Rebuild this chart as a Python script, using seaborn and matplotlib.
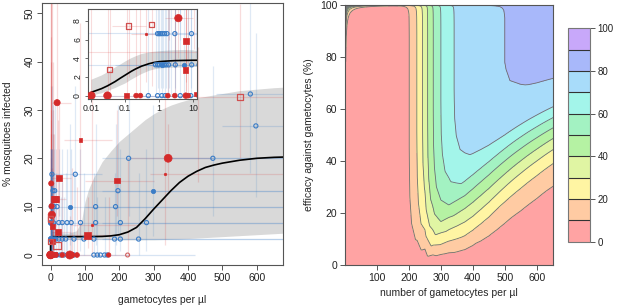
import numpy as np
import matplotlib
matplotlib.use("Agg")
import matplotlib.pyplot as plt
import seaborn as sns

sns.set_style("white")
plt.rcParams["font.family"] = ["Liberation Sans", "DejaVu Sans"]

red = "#d42a2a"
blue = "#3a7cc6"

# fitted infection curve and its confidence band (gametocytes per ul -> % infected)
curve_gam = [0.01, 0.02, 0.03, 0.05, 0.07, 0.1, 0.15, 0.2, 0.3, 0.5, 0.7, 1, 1.5, 2, 3, 5,
             10, 25, 50, 75, 90, 100, 110, 125, 150, 175, 200, 225, 250, 275, 300, 325,
             350, 375, 400, 425, 450, 475, 500, 550, 600, 650, 700]
curve_pct = [0.36, 0.75, 1.05, 1.5, 1.85, 2.2, 2.6, 2.85, 3.15, 3.42, 3.55, 3.64, 3.69,
             3.72, 3.75, 3.77, 3.79, 3.8, 3.8, 3.8, 3.8, 3.8, 3.8, 3.81, 3.84, 3.95, 4.2,
             4.75, 5.7, 7.5, 9.5, 11.4, 13.3, 15.0, 16.3, 17.3, 18.1, 18.6, 19.0, 19.6,
             20.0, 20.2, 20.3]
band_lo = [0.0, 0.25, 0.5, 0.8, 1.05, 1.3, 1.7, 1.95, 2.3, 2.65, 2.8, 2.9, 2.95, 2.98,
           3.0, 3.02, 3.05, 3.15, 3.2, 3.2, 3.2, 3.2, 3.2, 3.2, 3.2, 3.2, 3.15, 3.15,
           3.15, 3.15, 3.15, 3.2, 3.25, 3.3, 3.4, 3.5, 3.6, 3.7, 3.8, 4.0, 4.2, 4.4, 4.6]
band_hi = [1.7, 2.15, 2.5, 3.0, 3.3, 3.65, 4.0, 4.2, 4.45, 4.62, 4.7, 4.75, 4.8, 4.83,
           4.86, 4.88, 4.85, 4.6, 4.5, 5.0, 7.0, 11.0, 13.5, 16.0, 19.3, 21.5, 23.5,
           25.0, 26.5, 28.0, 29.2, 30.2, 31.0, 31.6, 32.1, 32.5, 32.8, 33.1, 33.4, 34.0,
           34.3, 34.6, 34.8]

# observed feeds: red = one study, blue = the other
rfc_x = [0.01, 0.03, 0.21, 0.28, 1.8, 2.9, 6.1, 7.2, 3.7, 2.0, 3.0, 15, 34, 56, 63, 77, 169, 19, 342]
rfc_y = [0, 0, 0, 0, 0, 0, 0, 0, 8.3, 14.8, 10.1, 0, 0, 0, 0, 0, 0, 31.5, 20]
rfc_s = [30, 30, 12, 12, 12, 12, 16, 12, 28, 14, 14, 14, 12, 34, 14, 12, 10, 20, 32]
rdot_x = [0.41, 334, 121]
rdot_y = [6.64, 16.8, 6.2]
rfs_x = [0.11, 6.2, 6.0, 12.5, 87, 194, 24, 10.5, 15, 21, 108]
rfs_y = [0, 5.86, 2.75, 0.15, 23.8, 15.4, 16, 11.6, 11.6, 4.7, 4.1]
rfs_s = [12, 14, 14, 10, 8, 16, 18, 24, 24, 18, 26]
ros_x = [0.125, 0.035, 552, 0.6, 19]
ros_y = [7.46, 2.82, 32.6, 7.6, 2.0]
ros_s = [16, 14, 18, 14, 30]
roc_x = [224]
roc_y = [0]

boc_x = [0.9, 1.0, 1.1, 1.25, 1.45, 1.7, 2.9, 9.0,
         0.78, 0.9, 1.0, 1.2, 1.4, 1.6, 1.9, 3.0, 9.1,
         0.48, 0.9, 1.2, 1.5, 4.2, 8.6,
         4, 7, 12, 2, 10, 19, 72, 227, 472, 581, 597, 196, 131, 189,
         24, 34, 48, 60, 87, 131, 203, 279,
         15, 24, 34, 44, 68, 97, 126, 186, 203, 256,
         19, 29, 39, 68, 126, 136, 145, 157, 165]
boc_y = [6.64] * 8 + [3.3] * 9 + [0] * 6 + \
        [16.7, 13.3, 13.3, 10, 10, 10, 16.7, 20, 20, 33.3, 26.7, 13.3, 10, 10] + \
        [6.7] * 8 + [3.3] * 10 + [0] * 9
bfc_x = [297, 56, 5.6, 1.2]
bfc_y = [13.3, 10, 3.3, 3.3]

# error bars (vertical: binomial CI of % infected, horizontal: CI of gametocyte density)
red_v_x = [0.01, 0.03, 0.035, 0.11, 0.125, 0.21, 0.28, 0.41, 1.8, 2.9, 3.7, 6.0, 6.2, 6.1,
           7.2, 2.0, 3.0, 10.5, 15, 19, 21, 24, 34, 56, 63, 77, 87, 108, 121, 169, 194,
           224, 334, 342, 552, 0.6, 430]
red_v_lo = [0, 0, 0.5, 0, 2, 0, 0, 1.5, 0, 0, 4, 0.5, 1.5, 0, 0, 6, 3, 5, 6, 15, 1, 8, 0,
            0, 0, 0, 4, 1.5, 0.5, 0, 8, 0, 2, 13, 20, 1, 15]
red_v_hi = [35, 25, 40, 30, 45, 20, 28, 55, 18, 22, 18, 30, 40, 12, 25, 55, 55, 25, 22, 55,
            28, 32, 15, 8, 18, 14, 48, 12, 42, 12, 30, 20, 46, 27, 52, 55, 43]
red_h_y = [31.5, 23.8, 20, 16.8, 15.4, 16, 11.6, 4.1, 4.7, 6.2, 32.6, 7.46, 6.64, 0, 0, 8.3]
red_h_lo = [5, 40, 230, 290, 100, 0, 0, 50, 0, 60, 420, 0.04, 0.15, 0.006, 20, 1.5]
red_h_hi = [60, 180, 470, 680, 300, 60, 45, 200, 60, 250, 680, 0.4, 1.0, 15, 230, 10]

blue_v_x = [0.8, 0.9, 1.0, 1.1, 1.2, 1.3, 1.45, 1.6, 1.8, 2.0, 2.3, 2.9, 3.0, 9.0, 0.48, 4.2,
            8.6, 4, 7, 12, 72, 227, 472, 581, 597, 196, 131, 189, 24, 34, 48, 60, 87, 203,
            279, 15, 44, 68, 97, 126, 186, 256, 29, 39, 136, 157, 297, 56, 5.6]
blue_v_lo = [0.1, 0.8, 0.1, 0.8, 0.1, 0.8, 0.1, 0.8, 0.1, 0.8, 0.1, 0.8, 0.1, 0.8, 0, 0,
             0, 6, 4, 4, 6, 8, 8, 17, 12, 4, 2, 2, 0.8, 0.8, 0.8, 0.8, 0.8, 0.8, 0.8, 0.1,
             0.1, 0.1, 0.1, 0.1, 0.1, 0.1, 0, 0, 0, 0, 4, 2, 0.1]
blue_v_hi = [17, 22, 17, 22, 17, 22, 17, 22, 17, 22, 17, 22, 17, 22, 12, 12, 12, 35, 31, 31,
             35, 39, 39, 53, 46, 31, 27, 27, 22, 22, 22, 22, 22, 22, 22, 17, 17, 17, 17, 17,
             17, 17, 12, 12, 12, 12, 31, 27, 17]
blue_h_y = [33.3, 26.7, 20, 20, 16.7, 13.3, 13.3, 10, 10, 6.7, 6.7, 3.3, 3.3, 0, 6.64, 3.3,
            3.3, 0]
blue_h_lo = [480, 500, 150, 350, 0, 0, 150, 0, 100, 0, 150, 0, 150, 0, 0.4, 0.5, 0.05, 0.2]
blue_h_hi = [680, 680, 680, 680, 150, 680, 680, 680, 680, 680, 680, 680, 680, 420, 13, 13, 2, 13]

# reduction in infectivity vs gametocyte density and efficacy, from the fitted curve
levels = list(range(0, 101, 10))
level_colors = ["#ffa3a3", "#ffcba3", "#fff5a3", "#e0f5a3", "#b5f2a3", "#a3f2c2",
                "#a3f5ea", "#a8dcfa", "#a8b8fa", "#c8a8fa"]


def infect(g):
    g = np.clip(g, curve_gam[0], None)
    return np.interp(np.log10(g), np.log10(curve_gam), curve_pct)


gx = np.linspace(0, 652, 327)
gy = np.concatenate([np.linspace(0, 96, 193), np.linspace(96.02, 100, 120)])
G, E = np.meshgrid(gx, gy)
Z = 100 * (1 - infect(G * (1 - E / 100)) / infect(G))

fig = plt.figure(figsize=(6.17, 3.08), dpi=100)
ax = fig.add_axes([0.068, 0.1396, 0.3907, 0.8504])
ax_in = fig.add_axes([0.1421, 0.6795, 0.1772, 0.2913])
ax2 = fig.add_axes([0.5592, 0.1396, 0.3376, 0.8442])
cax = fig.add_axes([0.920, 0.2153, 0.0362, 0.6928])

frame = "#555555"
tick_kw = dict(labelsize=7.5, length=3.5, width=0.7, color=frame, labelcolor="#222222", pad=2)


def draw_feeds(a, lw):
    a.fill_between(curve_gam, band_lo, band_hi, color="#d9d9d9", lw=0, zorder=1)
    a.vlines(red_v_x, red_v_lo, red_v_hi, color=red, alpha=0.16, lw=lw, zorder=2)
    a.hlines(red_h_y, red_h_lo, red_h_hi, color=red, alpha=0.16, lw=lw, zorder=2)
    a.vlines(blue_v_x, blue_v_lo, blue_v_hi, color=blue, alpha=0.16, lw=lw, zorder=2)
    a.hlines(blue_h_y, blue_h_lo, blue_h_hi, color=blue, alpha=0.2, lw=lw, zorder=2)
    sns.lineplot(x=curve_gam, y=curve_pct, sort=False, color="black", lw=1.2, ax=a, zorder=3)
    sns.scatterplot(x=boc_x, y=boc_y, marker="o", s=9, facecolor="none", edgecolor=blue,
                    linewidth=0.8, ax=a, zorder=4)
    sns.scatterplot(x=bfc_x, y=bfc_y, marker="o", s=10, color=blue, edgecolor=blue,
                    linewidth=0.5, ax=a, zorder=4)
    sns.scatterplot(x=rfc_x, y=rfc_y, marker="o", s=rfc_s, color=red, edgecolor=red,
                    linewidth=0.5, ax=a, zorder=5)
    sns.scatterplot(x=rdot_x, y=rdot_y, marker="o", s=4, color=red, edgecolor=red,
                    linewidth=0.3, ax=a, zorder=5)
    sns.scatterplot(x=rfs_x, y=rfs_y, marker="s", s=rfs_s, color=red, edgecolor=red,
                    linewidth=0.5, ax=a, zorder=5)
    sns.scatterplot(x=ros_x, y=ros_y, marker="s", s=ros_s, facecolor="none", edgecolor="#d05050",
                    linewidth=0.9, ax=a, zorder=5)
    sns.scatterplot(x=roc_x, y=roc_y, marker="o", s=8, facecolor="none", edgecolor="#d06060",
                    linewidth=0.8, ax=a, zorder=5)


# left: main panel
draw_feeds(ax, 0.9)
ax.set_xlim(-25, 676)
ax.set_ylim(-2.07, 52.1)
ax.set_xticks(range(0, 601, 100))
ax.set_yticks(range(0, 51, 10))
ax.tick_params(**tick_kw)
ax.tick_params(axis="y", labelrotation=90)
for lab in ax.get_yticklabels():
    lab.set_va("center")
ax.set_xlabel("gametocytes per µl", fontsize=7.5, labelpad=9)
ax.set_ylabel("% mosquitoes infected", fontsize=7.5, labelpad=8)

# inset on log scale
ax_in.set_facecolor("white")
draw_feeds(ax_in, 0.8)
ax_in.set_xscale("log")
ax_in.set_xlim(0.0078, 13.1)
ax_in.set_ylim(-0.33, 9.28)
ax_in.set_xticks([0.01, 0.1, 1, 10])
ax_in.set_xticklabels(["0.01", "0.1", "1", "10"])
ax_in.minorticks_off()
ax_in.set_yticks(range(0, 9, 2))
ax_in.tick_params(labelsize=6.3, length=2.5, width=0.6, color=frame, labelcolor="#222222", pad=1.5)
ax_in.tick_params(axis="y", labelrotation=90)
for lab in ax_in.get_yticklabels():
    lab.set_va("center")
ax_in.set_xlabel("")
ax_in.set_ylabel("")

# right: contour of reduction
cf = ax2.contourf(gx, gy, Z, levels=levels, colors=level_colors)
ax2.contour(gx, gy, Z, levels=levels[1:-1], colors="#6e6e6e", linewidths=0.6)
ax2.set_xlim(0, 652)
ax2.set_ylim(0, 100)
ax2.set_xticks(range(100, 601, 100))
ax2.set_yticks(range(0, 101, 20))
ax2.tick_params(**tick_kw)
ax2.set_xlabel("number of gametocytes per µl", fontsize=7.5, labelpad=4)
ax2.set_ylabel("efficacy against gametocytes (%)", fontsize=7.5, labelpad=4)

cb = fig.colorbar(cf, cax=cax, ticks=range(0, 101, 20), drawedges=True)
cb.outline.set_edgecolor("#777777")
cb.outline.set_linewidth(0.8)
cb.dividers.set_color("#333333")
cb.dividers.set_linewidth(0.8)
cax.tick_params(labelsize=7, length=3.5, width=0.7, color=frame, labelcolor="#222222", pad=2)

for a in (ax, ax_in, ax2):
    for sp in a.spines.values():
        sp.set_color(frame)
        sp.set_linewidth(0.8)
        sp.set_visible(True)
    a.tick_params(bottom=True, left=True, direction="out")
cax.tick_params(right=True, direction="out")

fig.savefig("out.png", dpi=100)
